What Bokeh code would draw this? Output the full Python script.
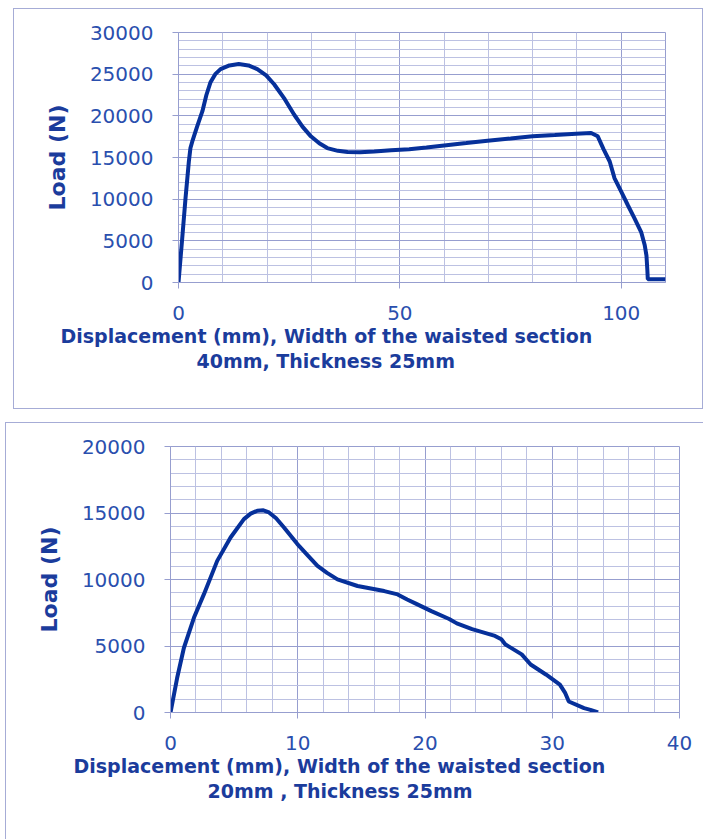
from bokeh.plotting import figure
from bokeh.models import Range1d, SingleIntervalTicker, Title
from bokeh.embed import file_html
from bokeh.resources import INLINE

# ---------------- data ----------------
top_disp = [0, 0.83, 1.58, 2.34, 2.7, 3.1, 4.2, 5.4, 6.3, 7.2, 8.3, 9.5, 11.5, 13.6,
            15.8, 17.8, 19.8, 21.6, 24.0, 26.1, 28.0, 29.9, 31.8, 33.6, 36.0, 38.2,
            41.0, 44.2, 48.0, 52.1, 56.0, 60.0, 65.0, 69.8, 75.0, 80.0, 85.0, 89.8,
            93.2, 94.7, 96.0, 97.4, 98.5, 100.0, 101.5, 103.0, 104.5, 105.3, 105.7,
            105.9, 106.0, 110.0]
top_load = [0, 5240, 10080, 14520, 16130, 16900, 18700, 20560, 22500, 23990, 25000,
            25600, 26050, 26210, 26050, 25600, 24850, 23790, 22000, 20160, 18700,
            17540, 16700, 16130, 15800, 15650, 15620, 15730, 15880, 16000, 16200,
            16450, 16730, 17020, 17280, 17540, 17700, 17860, 17940, 17540, 16000,
            14520, 12500, 10900, 9270, 7700, 6050, 4500, 3230, 1500, 400, 400]

bot_disp = [0, 0.52, 1.05, 1.84, 2.62, 3.67, 4.72, 5.77, 6.3, 6.82, 7.3, 7.74, 8.3,
            8.92, 9.97, 10.8, 11.55, 12.3, 13.12, 14.7, 16.8, 17.85, 18.6, 19.4, 20.5,
            21.9, 22.5, 23.7, 25.5, 26.0, 26.3, 27.6, 28.3, 29.5, 30.6, 31.0, 31.3,
            32.5, 33.0, 33.6]
bot_load = [0, 2590, 4850, 7120, 8880, 11400, 13160, 14540, 14950, 15170, 15200, 15040,
            14600, 13910, 12660, 11800, 11020, 10500, 10010, 9510, 9130, 8880, 8500,
            8130, 7620, 7030, 6700, 6270, 5760, 5500, 5130, 4370, 3610, 2860, 2100,
            1500, 830, 330, 200, 0]

y_label = "Load (N)"
top_title = ["Displacement (mm), Width of the waisted section", "40mm, Thickness 25mm"]
bot_title = ["Displacement (mm), Width of the waisted section", "20mm , Thickness 25mm"]

# ---------------- style ----------------
LINE = "#06309a"
GRID_MIN = "#bcc1e2"
GRID_MAJ = "#979ecf"
TICK_TXT = "#2a4fae"
TITLE_TXT = "#1b3c9c"
PANEL = "#a6acd6"
FONT = "DejaVu Sans"


def style(p, xint, yint):
    p.xaxis.ticker = SingleIntervalTicker(interval=xint, num_minor_ticks=5)
    p.yaxis.ticker = SingleIntervalTicker(interval=yint, num_minor_ticks=5)
    for g in (p.xgrid, p.ygrid):
        g.grid_line_color = GRID_MAJ
        g.grid_line_width = 1
        g.minor_grid_line_color = GRID_MIN
        g.minor_grid_line_width = 1
    for ax in (p.xaxis, p.yaxis):
        ax.axis_line_color = GRID_MAJ
        ax.major_tick_line_color = GRID_MAJ
        ax.major_tick_out = 6
        ax.major_tick_in = 0
        ax.minor_tick_line_color = None
        ax.major_label_text_font = FONT
        ax.major_label_text_font_size = "20px"
        ax.major_label_text_color = TICK_TXT
    p.xaxis.major_label_standoff = 17
    p.yaxis.major_label_standoff = 19
    p.yaxis.axis_label = y_label
    p.yaxis.axis_label_text_font = FONT
    p.yaxis.axis_label_text_font_style = "bold"
    p.yaxis.axis_label_text_font_size = "22px"
    p.yaxis.axis_label_text_color = TITLE_TXT
    p.yaxis.axis_label_standoff = 17
    p.outline_line_color = GRID_MAJ
    p.background_fill_color = "white"
    p.border_fill_color = "white"


def add_titles(p, lines, offsets):
    for txt, off, so in zip(lines, offsets, (0, 3)):
        p.add_layout(Title(text=txt, align="left", offset=off, standoff=so,
                           text_font=FONT, text_font_style="bold",
                           text_font_size="19px", text_color=TITLE_TXT), "below")


# top chart
p1 = figure(width=690, height=401, x_range=Range1d(0, 110), y_range=Range1d(0, 30000),
            output_backend="svg", toolbar_location=None,
            min_border_left=164, min_border_right=39, min_border_top=23,
            min_border_bottom=128)
style(p1, 50, 5000)
p1.line(top_disp, top_load, line_color=LINE, line_width=4)
add_titles(p1, top_title, (-118, 18))
p1.styles = {"border": "1px solid " + PANEL, "margin-left": "13px", "margin-top": "8px"}

# bottom chart
p2 = figure(width=698, height=417, x_range=Range1d(0, 40), y_range=Range1d(0, 20000),
            output_backend="svg", toolbar_location=None,
            min_border_left=164, min_border_right=25, min_border_top=23,
            min_border_bottom=128)
style(p2, 10, 5000)
p2.line(bot_disp, bot_load, line_color=LINE, line_width=4)
add_titles(p2, bot_title, (-97, 37))
p2.styles = {"border-left": "1px solid " + PANEL, "border-top": "1px solid " + PANEL,
             "margin-left": "5px", "margin-top": "13px"}

open("out.html", "w").write(file_html([p1, p2], INLINE))
